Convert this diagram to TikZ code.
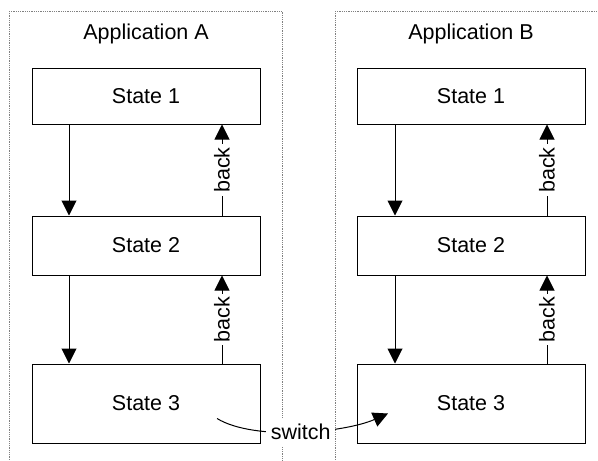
\documentclass[tikz,border=0pt]{standalone}
\usepackage{fontspec}
\setmainfont{Liberation Sans}
\usetikzlibrary{positioning,arrows.meta}

\begin{document}
\begin{tikzpicture}[x=1pt, y=1pt, font=\fontsize{21.5}{25}\selectfont,
  statebox/.style={rectangle, draw, line width=1pt, minimum width=228pt, minimum height=56pt},
  frame/.style={draw=gray, densely dotted, line width=0.8pt},
  backlbl/.style={fill=white, rotate=90, inner sep=3pt},
  >={Triangle[width=15pt,length=15pt]}]

\path[use as bounding box, clip] (0,0) rectangle (598,-461);

% application frames
\draw[frame] (9,-11) rectangle (282,-480);
\draw[frame] (335,-11) rectangle (608,-480);

% application A
\node (a1) [statebox] at (146,-96) {State 1};
\node (a2) [statebox, minimum height=59pt, below=91pt of a1] {State 2};
\node (a3) [statebox, minimum height=79pt, below=88pt of a2] {State 3};
\node (ta) [above=20pt of a1] {Application A};

% application B
\node (b1) [statebox] at (471,-96) {State 1};
\node (b2) [statebox, minimum height=59pt, below=91pt of b1] {State 2};
\node (b3) [statebox, minimum height=79pt, below=88pt of b2] {State 3};
\node (tb) [above=20pt of b1] {Application B};

\draw[->, line width=1pt] ([xshift=-77pt]a1.south) -- ([xshift=-77pt]a2.north);
\draw[->, line width=1pt] ([xshift=-77pt]a2.south) -- ([xshift=-77pt]a3.north);
\draw[->, line width=1pt] ([xshift=76pt]a2.north) -- node[backlbl] {back} ([xshift=76pt]a1.south);
\draw[->, line width=1pt] ([xshift=76pt]a3.north) -- node[backlbl] {back} ([xshift=76pt]a2.south);

\draw[->, line width=1pt] ([xshift=-76pt]b1.south) -- ([xshift=-76pt]b2.north);
\draw[->, line width=1pt] ([xshift=-76pt]b2.south) -- ([xshift=-76pt]b3.north);
\draw[->, line width=1pt] ([xshift=76pt]b2.north) -- node[backlbl] {back} ([xshift=76pt]b1.south);
\draw[->, line width=1pt] ([xshift=76pt]b3.north) -- node[backlbl] {back} ([xshift=76pt]b2.south);

% switch between the apps
\coordinate (swa) at ([shift={(71,-15)}]a3.center);
\coordinate (swb) at ([shift={(-83,-10)}]b3.center);
\draw[->, line width=1pt] (swa) .. controls +(38,-23) and +(-43,-19) .. node[fill=white, inner xsep=5pt, inner ysep=6pt] {switch} (swb);

\end{tikzpicture}
\end{document}
